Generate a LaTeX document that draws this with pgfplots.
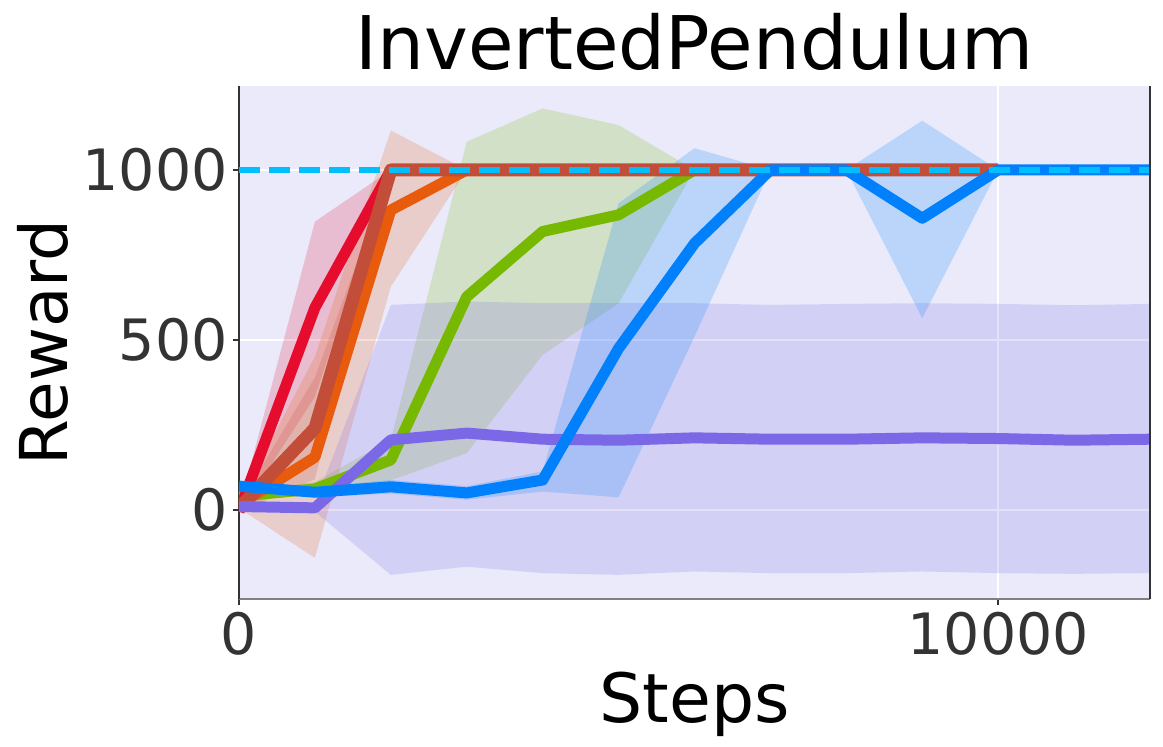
\documentclass[border=0pt]{standalone}
\usepackage{fontspec}
\setmainfont{DejaVu Sans}
\usepackage{pgfplots}
\usepackage{pgfplotstable}
\usepgfplotslibrary{fillbetween}
\pgfplotsset{compat=1.18}

\definecolor{bg}{RGB}{234,234,250}
\definecolor{cred}{RGB}{230,12,45}
\definecolor{corange}{RGB}{232,90,12}
\definecolor{cbrown}{RGB}{194,78,58}
\definecolor{cgreen}{RGB}{118,185,0}
\definecolor{cblue}{RGB}{0,128,250}
\definecolor{cpurple}{RGB}{123,104,230}
\definecolor{ccyan}{RGB}{0,191,255}
\definecolor{tickgray}{RGB}{51,51,51}

\pgfplotstableread{
x y lo hi
0 -5 -12 2
1000 595 333 848
2000 1000 1000 1000
3000 1000 1000 1000
4000 1000 1000 1000
5000 1000 1000 1000
6000 1000 1000 1000
7000 1000 1000 1000
8000 1000 1000 1000
9000 1000 1000 1000
10000 1000 1000 1000
}\redtab

\pgfplotstableread{
x y lo hi
0 15 5 25
1000 155 -141 451
2000 882 657 1116
3000 1000 1000 1000
4000 1000 1000 1000
5000 1000 1000 1000
6000 1000 1000 1000
7000 1000 1000 1000
8000 1000 1000 1000
9000 1000 1000 1000
10000 1000 1000 1000
}\orangetab

\pgfplotstableread{
x y lo hi
0 5 -5 15
1000 240 90 390
2000 1000 1000 1000
3000 1000 1000 1000
4000 1000 1000 1000
5000 1000 1000 1000
6000 1000 1000 1000
7000 1000 1000 1000
8000 1000 1000 1000
9000 1000 1000 1000
10000 1000 1000 1000
}\browntab

\pgfplotstableread{
x y lo hi
0 40 30 50
1000 62 42 82
2000 147 87 207
3000 627 167 1083
4000 819 456 1181
5000 868 608 1132
6000 1000 1000 1000
7000 1000 1000 1000
8000 1000 1000 1000
9000 1000 1000 1000
10000 1000 1000 1000
}\greentab

\pgfplotstableread{
x y lo hi
0 70 55 85
1000 52 37 67
2000 68 48 88
3000 50 30 70
4000 88 54 113
5000 475 37 902
6000 784 510 1064
7000 1000 1000 1000
8000 1000 1000 1000
9000 858 564 1145
10000 1000 1000 1000
11000 1000 1000 1000
12000 1000 1000 1000
}\bluetab

\pgfplotstableread{
x y lo hi
0 10 0 20
1000 6 -5 18
2000 206 -191 603
3000 226 -167 613
4000 208 -186 608
5000 205 -191 608
6000 212 -181 608
7000 208 -186 603
8000 208 -186 606
9000 212 -181 608
10000 210 -186 606
11000 205 -188 602
12000 208 -186 606
}\purpletab

\begin{document}
\begin{tikzpicture}
\begin{axis}[
  scale only axis, width=455.5pt, height=256.5pt,
  xmin=0, xmax=12000, ymin=-262, ymax=1247,
  axis background/.style={fill=bg},
  axis x line*=bottom, axis y line*=left,
  x axis line style={-, draw=gray, line width=1.2pt},
  y axis line style={-, draw=tickgray, line width=1pt},
  xtick={0,10000}, xticklabels={0,10000},
  ytick={0,500,1000}, yticklabels={0,500,1000},
  scaled x ticks=false, scaled y ticks=false,
  tick align=outside, major tick length=3pt,
  tick style={tickgray, line width=0.8pt},
  grid=major, major grid style={white, line width=1pt},
  ticklabel style={font=\fontsize{28.5}{30}\selectfont, text=tickgray, inner sep=0pt},
  xticklabel style={anchor=north, yshift=-3.5pt},
  yticklabel style={anchor=east, xshift=-2.5pt},
  every axis title shift=0pt,
  title={InvertedPendulum},
  title style={font=\fontsize{37}{40}\selectfont, at={(axis description cs:0.5,1.0331)}, anchor=base, inner sep=0pt},
  xlabel={Steps},
  xlabel style={font=\fontsize{34}{36}\selectfont, at={(axis description cs:0.5,-0.2398)}, anchor=base, inner sep=0pt},
  ylabel={Reward},
  ylabel style={font=\fontsize{33}{36}\selectfont, at={(axis description cs:-0.1888,0.5)}, anchor=base, inner sep=0pt},
  line join=round,
]
% bands
\addplot[draw=none, name path=gu] table[x=x,y=hi]{\greentab};
\addplot[draw=none, name path=gl] table[x=x,y=lo]{\greentab};
\addplot[cgreen, fill opacity=0.2, draw=none] fill between[of=gu and gl];
\addplot[draw=none, name path=ru] table[x=x,y=hi]{\redtab};
\addplot[draw=none, name path=rl] table[x=x,y=lo]{\redtab};
\addplot[cred, fill opacity=0.2, draw=none] fill between[of=ru and rl];
\addplot[draw=none, name path=ou] table[x=x,y=hi]{\orangetab};
\addplot[draw=none, name path=ol] table[x=x,y=lo]{\orangetab};
\addplot[corange, fill opacity=0.2, draw=none] fill between[of=ou and ol];
\addplot[draw=none, name path=bu] table[x=x,y=hi]{\browntab};
\addplot[draw=none, name path=bl] table[x=x,y=lo]{\browntab};
\addplot[cbrown, fill opacity=0.2, draw=none] fill between[of=bu and bl];
\addplot[draw=none, name path=pu] table[x=x,y=hi]{\purpletab};
\addplot[draw=none, name path=pl] table[x=x,y=lo]{\purpletab};
\addplot[cpurple, fill opacity=0.2, draw=none] fill between[of=pu and pl];
\addplot[draw=none, name path=lu] table[x=x,y=hi]{\bluetab};
\addplot[draw=none, name path=ll] table[x=x,y=lo]{\bluetab};
\addplot[cblue, fill opacity=0.2, draw=none] fill between[of=lu and ll];
% lines
\addplot[cgreen, line width=5.5pt, mark=none] table[x=x,y=y]{\greentab};
\addplot[cred, line width=5.5pt, mark=none] table[x=x,y=y]{\redtab};
\addplot[corange, line width=5.5pt, mark=none] table[x=x,y=y]{\orangetab};
\addplot[cbrown, line width=6.5pt, mark=none] table[x=x,y=y]{\browntab};
\addplot[cpurple, line width=5.5pt, mark=none] table[x=x,y=y]{\purpletab};
\addplot[cblue, line width=5.5pt, mark=none] table[x=x,y=y]{\bluetab};
\addplot[ccyan, line width=2.8pt, dash pattern=on 10.4pt off 4.6pt, mark=none] coordinates {(0,1000) (12000,1000)};
\coordinate (BL) at (rel axis cs:0,0);
\coordinate (BR) at (rel axis cs:1,0);
\coordinate (TR) at (rel axis cs:1,1);
\end{axis}
\draw[tickgray, line width=1pt] (BR) -- (TR);
\pgfresetboundingbox
\useasboundingbox (BL) ++(-119.5pt,-74pt) rectangle ++(581.5pt,373.5pt);
\end{tikzpicture}
\end{document}
